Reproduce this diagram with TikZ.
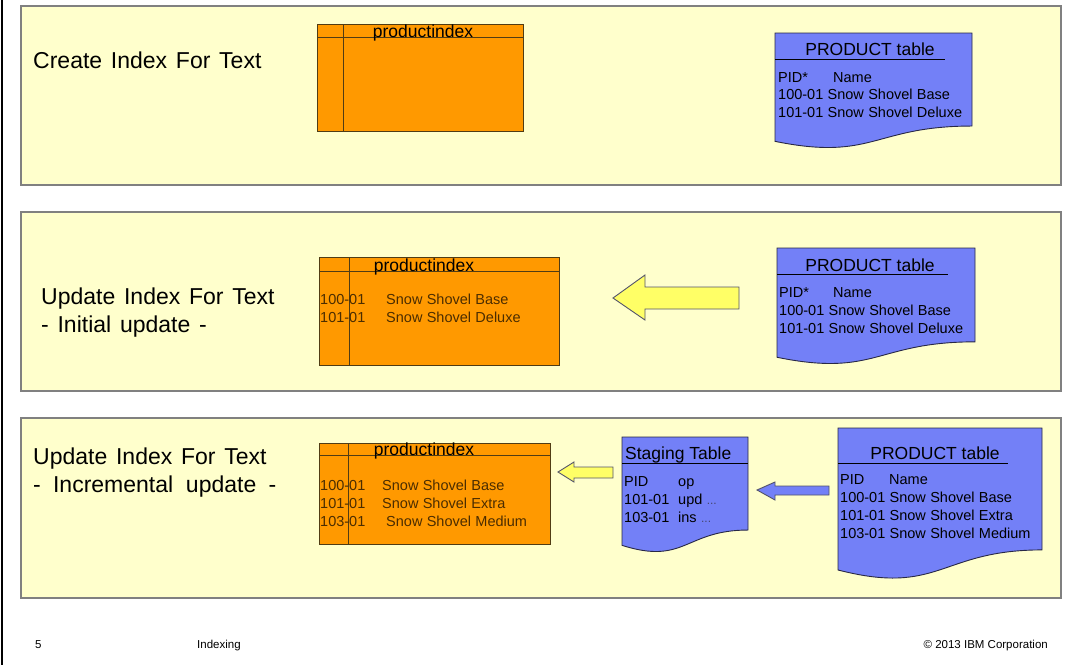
\documentclass[tikz,border=0pt]{standalone}
\usepackage{fontspec}
\setmainfont{Liberation Sans}
\definecolor{panelfill}{RGB}{255,255,204}
\definecolor{panelgray}{RGB}{128,128,128}
\definecolor{idxorange}{RGB}{255,153,0}
\definecolor{idxline}{RGB}{80,60,20}
\definecolor{idxtext}{RGB}{75,45,0}
\definecolor{docblue}{RGB}{115,128,247}
\definecolor{docline}{RGB}{40,40,70}
\definecolor{arrowyellow}{RGB}{255,255,102}
\definecolor{dotgray}{RGB}{70,70,110}
\newcommand{\mydoc}[4]{\draw[docsty] (#1,#2) -- ({#1+#3},#2) -- ({#1+#3},{#2+0.802*#4}) .. controls ({#1+0.5*#3},{#2+0.802*#4}) and ({#1+0.5*#3},{#2+1.107*#4}) .. (#1,{#2+0.934*#4}) -- cycle;}
\newcommand{\bigsp}{\spaceskip=0.38em\relax}
\newcommand{\rowsp}{\spaceskip=0.3em\relax}
\tikzset{
  panel/.style={draw=panelgray, line width=1.3pt, fill=panelfill},
  idxbox/.style={draw=idxline, line width=0.9pt, fill=idxorange},
  idxrule/.style={draw=idxline, line width=0.9pt},
  docsty/.style={draw=docline, line width=0.9pt, fill=docblue},
  docrule/.style={draw=black, line width=0.9pt},
  blockarrow/.style={draw=docline!80, line width=0.9pt},
  big/.style={font=\fontsize{23}{28}\selectfont, execute at begin node={\bigsp}, anchor=base west, inner sep=0pt},
  ttl/.style={font=\fontsize{17.5}{20}\selectfont, anchor=base, inner sep=0pt},
  ttlw/.style={font=\fontsize{17.5}{20}\selectfont, anchor=base west, inner sep=0pt},
  row/.style={font=\fontsize{14.5}{18}\selectfont, execute at begin node={\rowsp}, anchor=base west, inner sep=0pt},
  irow/.style={row, text=idxtext},
  foot/.style={font=\fontsize{11.5}{14}\selectfont, inner sep=0pt},
}
\begin{document}
\begin{tikzpicture}[x=1pt,y=-1pt]
\useasboundingbox (0,0) rectangle (1065,665);
\fill[white] (0,0) rectangle (1065,665);
\draw[black, line width=1.8pt] (2,0) -- (2,665);

% panels
\draw[panel] (21,6) rectangle (1061,185);
\draw[panel] (21,212) rectangle (1061,391);
\draw[panel] (21,418) rectangle (1061,598);

% ---------- Panel 1 ----------
\node[big] (l1) at (33,68) {Create Index For Text};
\draw[idxbox] (317,24) rectangle (523,131);
\draw[idxrule] (317,37) -- (523,37);
\draw[idxrule] (343,24) -- (343,131);
\node[ttl] (t1) at (423,37) {productindex};

\mydoc{775}{33}{197}{116}
\draw[docrule] (775,59) -- (945,59);
\node[ttl] (p1) at (870,55) {PRODUCT table};
\node[row] (p1a) at (778,82) {PID*};
\node[row] (p1b) at (833,82) {Name};
\node[row] (p1c) at (778,99) {100-01 Snow Shovel Base};
\node[row] (p1d) at (778,117) {101-01 Snow Shovel Deluxe};

% ---------- Panel 2 ----------
\node[big] (l2a) at (41,304) {Update Index For Text};
\node[big] (l2b) at (41,332) {- Initial update -};
\draw[idxbox] (319,257) rectangle (559,365);
\draw[idxrule] (319,271) -- (559,271);
\draw[idxrule] (349,257) -- (349,365);
\node[ttl] (t2) at (424,271) {productindex};
\node[irow] (i2a) at (320,304) {100-01};
\node[irow] (i2b) at (386,304) {Snow Shovel Base};
\node[irow] (i2c) at (320,322) {101-01};
\node[irow] (i2d) at (386,322) {Snow Shovel Deluxe};

\draw[blockarrow, fill=arrowyellow] (613,298) -- (645,275) -- (645,287) -- (739,287) -- (739,309) -- (645,309) -- (645,320) -- cycle;

\mydoc{777}{248}{198}{117}
\draw[docrule] (777,274) -- (948,274);
\node[ttl] (p2) at (870,271) {PRODUCT table};
\node[row] (p2a) at (779,297) {PID*};
\node[row] (p2b) at (833,297) {Name};
\node[row] (p2c) at (779,315) {100-01 Snow Shovel Base};
\node[row] (p2d) at (779,333) {101-01 Snow Shovel Deluxe};

% ---------- Panel 3 ----------
\node[big] (l3a) at (33,464) {Update Index For Text};
\node[big] (l3b) at (33,492) {-\hspace{3.5pt} Incremental\hspace{4pt} update\hspace{3.5pt} -};
\draw[idxbox] (319,443) rectangle (550,544);
\draw[idxrule] (319,455) -- (550,455);
\draw[idxrule] (348,443) -- (348,544);
\node[ttl] (t3) at (424,455) {productindex};
\node[irow] (i3a) at (320,490) {100-01};
\node[irow] (i3b) at (382,490) {Snow Shovel Base};
\node[irow] (i3c) at (320,508) {101-01};
\node[irow] (i3d) at (382,508) {Snow Shovel Extra};
\node[irow] (i3e) at (320,526) {103-01};
\node[irow] (i3f) at (386,526) {Snow Shovel Medium};

\draw[blockarrow, fill=arrowyellow] (558,472) -- (574,462) -- (574,467) -- (613,467) -- (613,478) -- (574,478) -- (574,482) -- cycle;

\mydoc{622}{437}{126}{116}
\draw[docrule] (622,463) -- (748,463);
\node[ttlw] (s3) at (625,459) {Staging Table};
\node[row] (s3a) at (624,486) {PID};
\node[row] (s3b) at (678,486) {op};
\node[row] (s3c) at (624,504) {101-01};
\node[row] (s3d) at (678,504) {upd \textcolor{dotgray}{\fontsize{12}{12}\selectfont ...}};
\node[row] (s3e) at (624,522) {103-01};
\node[row] (s3f) at (678,522) {ins \textcolor{dotgray}{\fontsize{12}{12}\selectfont ...}};

\draw[blockarrow, fill=docblue] (757,490) -- (775,482) -- (775,486) -- (829,486) -- (829,495) -- (775,495) -- (775,500) -- cycle;

\mydoc{838}{428}{204}{152}
\draw[docrule] (838,463) -- (1008,463);
\node[ttl] (p3) at (935,459) {PRODUCT table};
\node[row] (p3a) at (840,484) {PID};
\node[row] (p3b) at (889,484) {Name};
\node[row] (p3c) at (840,502) {100-01 Snow Shovel Base};
\node[row] (p3d) at (840,520) {101-01 Snow Shovel Extra};
\node[row] (p3e) at (840,538) {103-01 Snow Shovel Medium};

% ---------- Footer ----------
\node[foot, anchor=base west] (f1) at (35,648) {5};
\node[foot, anchor=base west] (f2) at (197,648) {Indexing};
\node[foot, anchor=base east] (f3) at (1048,648) {© 2013 IBM Corporation};
\end{tikzpicture}
\end{document}
